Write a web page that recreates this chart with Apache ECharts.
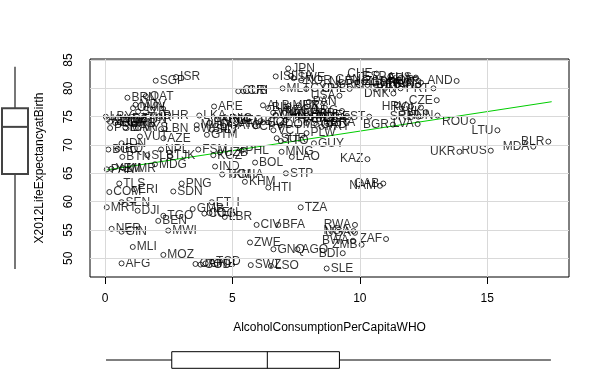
<!DOCTYPE html>
<html><head><meta charset="utf-8">
<script src="https://cdn.jsdelivr.net/npm/echarts@6/dist/echarts.min.js"></script>
<style>html,body{margin:0;padding:0;background:#fff}#c{width:600px;height:370px}</style>
</head><body><div id="c"></div>
<script>
const countries = [
"SGP","ISR","BRN","QAT","MDV","OMN","SYR","BHR","LBY","KWT",
"SAU","EGY","JOR","IRN","DZA","TUN","MAR","TUR","LBN","MYS",
"PSE","VUT","AZE","IDN","BGD","IRQ","NPL","FSM","BTN","SLB",
"TJK","MDG","PAK","MMR","YEM","TLS","ERI","COM","PNG","SDN",
"SEN","MRT","DJI","TGO","GMB","BEN","MWI","NER","GIN","MLI",
"MOZ","AFG","CAF","COD","GNB","TCD","ETH","COG","KEN","LBR",
"TZA","CIV","BFA","ZWE","GNQ","AGO","SWZ","LSO","SLE","RWA",
"UGA","NGA","BWA","ZMB","ZAF","BDI","GAB","NAM","KAZ","UKR",
"RUS","MDA","BLR","LTU","ROU","IND","TKM","KGZ","UZB","PHL",
"MNG","LAO","BOL","GHA","STP","KHM","HTI","GUY","TTO","SUR",
"PLW","PRY","VCT","ATG","GTM","LKA","ARE","MUS","WSM","ARM",
"GEO","NIC","HND","SLV","JAM","DOM","COL","CPV","BLZ","THA",
"CHN","VNM","MKD","BIH","ALB","MEX","ECU","URY","PAN","BHS",
"BRB","SYC","BRA","PER","LCA","GRD","VEN","ARG","CHL","CYP",
"MLT","USA","CUB","CRI","JPN","ISL","ITA","SWE","NOR","NLD",
"CAN","NZL","GRC","CHE","ESP","FRA","AUS","AND","KOR","IRL",
"LUX","AUT","DEU","BEL","GBR","FIN","SVN","DNK","PRT","CZE",
"HRV","POL","SVK","HUN","SRB","LVA","BGR","EST","MNE"
];
const alcohol = [
1.99,2.79,0.88,1.6,1.2,1.1,1.3,2.13,0.03,0.1,
0.2,0.4,0.6,1.0,0.9,1.3,0.8,1.5,2.2,1.3,
0.2,1.37,2.29,0.65,0.13,0.5,2.2,3.66,0.68,1.66,
2.55,1.96,0.07,0.72,0.25,0.56,1.14,0.17,3.01,2.68,
0.65,0.07,1.28,2.29,3.44,2.09,2.48,0.26,0.65,1.09,
2.29,0.65,3.55,3.75,3.95,4.2,4.19,3.9,4.1,4.7,
7.68,5.95,6.8,5.69,6.61,7.55,5.72,6.51,8.7,9.81,
9.81,9.75,9.73,10.07,11.03,9.33,10.92,10.79,10.3,13.91,
15.14,16.81,17.4,15.4,14.43,4.32,4.6,4.25,4.51,5.36,
6.93,7.33,5.89,5.04,7.1,5.49,6.41,8.2,6.9,6.74,
7.91,8.5,6.61,5.04,4.0,3.7,4.28,3.6,3.6,4.4,
5.0,4.8,4.1,4.2,4.9,6.9,6.2,5.9,6.1,7.1,
6.7,6.6,6.7,6.4,6.2,7.2,7.2,7.6,8.0,7.6,
7.9,7.9,8.7,8.1,8.4,8.3,8.9,9.3,9.6,7.9,
6.97,9.2,5.23,5.43,7.19,6.7,7.3,7.4,7.7,9.9,
10.2,10.9,10.3,10.66,11.2,12.2,12.2,13.8,12.3,11.9,
11.4,12.4,11.8,10.8,11.6,12.3,11.6,11.32,12.89,13.02,
12.0,12.4,12.6,13.05,12.3,12.27,11.3,10.37,9.5
];
const lifeExp = [
81.35,82.0,78.35,78.6,77.1,76.5,75.9,75.1,75.0,74.5,
74.1,73.9,74.0,73.8,74.6,74.4,73.1,74.8,72.8,73.0,
73.0,71.5,71.2,70.3,69.2,69.3,69.2,69.2,67.9,68.2,
68.1,66.6,65.7,65.9,65.8,63.2,62.2,61.7,63.2,61.8,
59.9,59.0,58.4,57.5,58.7,56.6,54.9,55.2,54.7,52.0,
50.6,49.1,49.0,48.9,49.1,49.4,59.9,57.9,58.0,57.3,
59.0,55.9,55.9,52.8,51.6,51.6,48.8,48.65,48.2,55.9,
54.5,54.8,53.1,52.4,53.4,50.9,63.2,62.8,67.5,68.8,
69.0,69.7,70.6,72.6,74.2,66.2,64.8,68.2,68.7,69.0,
68.8,67.9,66.9,64.7,65.0,63.5,62.5,70.3,70.7,71.2,
72.1,73.2,72.6,73.4,71.8,75.2,76.8,73.5,72.8,74.5,
74.3,74.7,73.9,72.7,73.7,73.5,74.0,73.3,74.2,74.4,
75.2,75.7,75.3,76.5,77.0,76.9,76.1,77.0,77.6,75.3,
75.6,73.9,73.9,74.8,74.6,73.6,74.6,76.0,79.9,79.9,
80.0,78.7,79.5,79.5,83.5,82.1,82.2,81.8,81.4,81.1,
81.5,81.2,80.6,82.6,82.1,81.7,81.9,81.3,81.3,80.9,
81.2,81.0,80.7,80.5,81.0,80.6,80.0,79.1,80.0,77.9,
76.8,76.6,75.8,75.2,75.0,73.7,73.6,75.0,75.1
];
const xTicks = [0, 5, 10, 15];
const yTicks = [50, 55, 60, 65, 70, 75, 80, 85];
const fitX = [0.07, 17.53];
const fitY = [65.6, 77.64];
const lifeBox = [48.1, 64.9, 73.2, 76.5, 83.8];
const alcoholBox = [0.04, 2.62, 6.37, 9.2, 17.5];
const xTitle = "AlcoholConsumptionPerCapitaWHO";
const yTitle = "X2012LifeExpectancyatBirth";

const XMIN = -0.589, XMAX = 18.21, YMIN = 46.70, YMAX = 85.18;
const FONT = "'Liberation Sans', Arial, sans-serif";
const xMid = (Math.min(...alcohol) + Math.max(...alcohol)) / 2;

const points = countries.map((n, i) => ({
  name: n,
  value: [alcohol[i], lifeExp[i]],
  label: { position: alcohol[i] > xMid ? 'left' : 'right' }
}));

const chart = echarts.init(document.getElementById('c'), null, { renderer: 'canvas' });
chart.setOption({
  animation: false,
  backgroundColor: '#fff',
  grid: [
    { left: 90, top: 59, width: 479, height: 218, show: true, borderColor: '#000', borderWidth: 1, backgroundColor: 'transparent' },
    { left: 2, top: 59, width: 26, height: 218 },
    { left: 90, top: 351.7, width: 479, height: 16.6 }
  ],
  xAxis: [
    { type: 'value', gridIndex: 0, min: XMIN, max: XMAX,
      axisLine: { show: false }, splitLine: { show: false },
      axisTick: { show: true, customValues: xTicks, length: 7, lineStyle: { color: '#000' } },
      axisLabel: { customValues: xTicks, margin: 16, fontSize: 12, color: '#000', fontFamily: FONT },
      name: xTitle, nameLocation: 'middle', nameGap: 45,
      nameTextStyle: { fontSize: 12, color: '#000', fontFamily: FONT } },
    { type: 'value', gridIndex: 1, min: 0, max: 1, show: false },
    { type: 'value', gridIndex: 2, min: XMIN, max: XMAX, show: false }
  ],
  yAxis: [
    { type: 'value', gridIndex: 0, min: YMIN, max: YMAX,
      axisLine: { show: false }, splitLine: { show: false },
      axisTick: { show: true, customValues: yTicks, length: 8, lineStyle: { color: '#000' } },
      axisLabel: { customValues: yTicks, rotate: 90, margin: 15, fontSize: 12, color: '#000', fontFamily: FONT },
      name: yTitle, nameLocation: 'middle', nameGap: 44,
      nameTextStyle: { fontSize: 12, color: '#000', fontFamily: FONT } },
    { type: 'value', gridIndex: 1, min: YMIN, max: YMAX, show: false },
    { type: 'value', gridIndex: 2, min: 0, max: 1, show: false }
  ],
  series: [
    { type: 'scatter', xAxisIndex: 0, yAxisIndex: 0, data: [], z: 0, silent: true,
      markLine: { silent: true, symbol: ['none', 'none'], label: { show: false },
        lineStyle: { color: '#d9d9d9', type: 'solid', width: 1 },
        data: xTicks.map(v => ({ xAxis: v })).concat(yTicks.map(v => ({ yAxis: v }))) } },
    { type: 'line', xAxisIndex: 0, yAxisIndex: 0, z: 2, symbol: 'none',
      data: fitX.map((x, i) => [x, fitY[i]]),
      lineStyle: { color: '#00CD00', width: 1 } },
    { type: 'scatter', xAxisIndex: 0, yAxisIndex: 0, z: 3, data: points,
      symbol: 'circle', symbolSize: 5,
      itemStyle: { color: 'rgba(0,0,0,0)', borderColor: '#000', borderWidth: 1 },
      label: { show: true, formatter: '{b}', distance: 1, fontSize: 12, color: '#000', fontFamily: FONT },
      labelLayout: { hideOverlap: false } },
    { type: 'custom', coordinateSystem: 'cartesian2d', xAxisIndex: 1, yAxisIndex: 1, z: 2,
      data: [[0.5].concat(lifeBox)], encode: { x: 0, y: 1 }, clip: false,
      renderItem: function (params, api) {
        const c = api.value(0);
        const v = [1, 2, 3, 4, 5].map(k => api.value(k));
        const pc = k => api.coord([c, v[k]]);
        const xl = api.coord([0, v[0]])[0], xr = api.coord([1, v[0]])[0];
        const xc = pc(0)[0];
        return { type: 'group', children: [
          { type: 'line', shape: { x1: xc, y1: pc(0)[1], x2: xc, y2: pc(1)[1] }, style: { stroke: '#777', lineWidth: 2 } },
          { type: 'line', shape: { x1: xc, y1: pc(3)[1], x2: xc, y2: pc(4)[1] }, style: { stroke: '#777', lineWidth: 2 } },
          { type: 'rect', shape: { x: xl, y: pc(3)[1], width: xr - xl, height: pc(1)[1] - pc(3)[1] }, style: { stroke: '#444', fill: 'none', lineWidth: 2 } },
          { type: 'line', shape: { x1: xl, y1: pc(2)[1], x2: xr, y2: pc(2)[1] }, style: { stroke: '#444', lineWidth: 2 } }
        ] };
      } },
    { type: 'custom', coordinateSystem: 'cartesian2d', xAxisIndex: 2, yAxisIndex: 2, z: 2,
      data: [alcoholBox.concat([0.5])], encode: { x: 0, y: 5 }, clip: false,
      renderItem: function (params, api) {
        const v = [0, 1, 2, 3, 4].map(k => api.value(k));
        const c = api.value(5);
        const pc = k => api.coord([v[k], c]);
        const yt = api.coord([v[0], 1])[1], yb = api.coord([v[0], 0])[1];
        const yc = pc(0)[1];
        return { type: 'group', children: [
          { type: 'line', shape: { x1: pc(0)[0], y1: yc, x2: pc(1)[0], y2: yc }, style: { stroke: '#000', lineWidth: 1 } },
          { type: 'line', shape: { x1: pc(3)[0], y1: yc, x2: pc(4)[0], y2: yc }, style: { stroke: '#000', lineWidth: 1 } },
          { type: 'rect', shape: { x: pc(1)[0], y: yt, width: pc(3)[0] - pc(1)[0], height: yb - yt }, style: { stroke: '#000', fill: 'none', lineWidth: 1 } },
          { type: 'line', shape: { x1: pc(2)[0], y1: yt, x2: pc(2)[0], y2: yb }, style: { stroke: '#000', lineWidth: 1 } }
        ] };
      } }
  ]
});
</script></body></html>
